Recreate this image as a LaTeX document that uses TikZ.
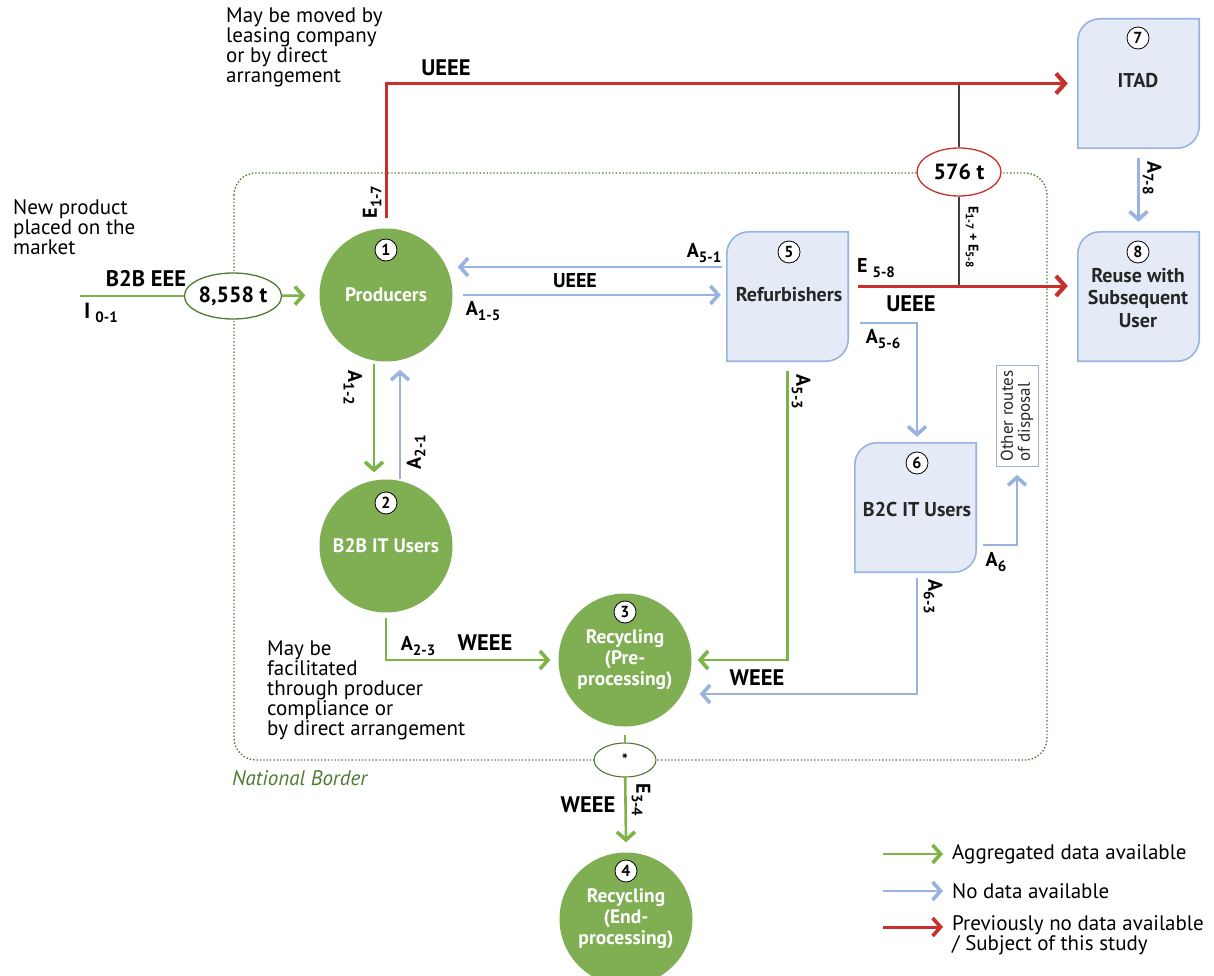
\documentclass[tikz,border=0pt]{standalone}
\usepackage{fontspec}
\setmainfont{PT Sans}
\usetikzlibrary{arrows.meta,shapes.geometric,calc}
\definecolor{cg}{HTML}{80AE53}
\definecolor{cgl}{HTML}{7DB446}
\definecolor{cb}{HTML}{98B3DE}
\definecolor{cbf}{HTML}{E4EAF6}
\definecolor{cr}{HTML}{C9302C}
\definecolor{cdg}{HTML}{4F7B31}
\newcommand\lab[2]{#1\raisebox{-0.45ex}{\fontsize{15}{15}\selectfont #2}}
\newcommand\drawbx[1]{\draw[draw=cb,fill=cbf,line width=1.6pt] (#1.north east) -- ([yshift=22pt]#1.south east) arc[start angle=0,end angle=-90,radius=22pt] -- (#1.south west) -- ([yshift=-22pt]#1.north west) arc[start angle=180,end angle=90,radius=22pt] -- cycle;}
\tikzset{
 tipg/.style={-{Straight Barb[length=8pt,width=18pt,line width=3.6pt]}},
 gline/.style={draw=cgl,line width=2.6pt},
 bline/.style={draw=cb,line width=2.2pt},
 rline/.style={draw=cr,line width=3pt},
 gflow/.style={gline,tipg},
 bflow/.style={bline,tipg},
 rflow/.style={rline,-{Straight Barb[length=9pt,width=20pt,line width=4.2pt]}},
 circ/.style={circle,fill=cg,minimum size=133pt,inner sep=0pt,text=white,align=center,font=\bfseries\fontsize{19.5}{21}\selectfont},
 num/.style={circle,draw=black,line width=0.8pt,fill=white,minimum size=22pt,inner sep=0pt,font=\bfseries\fontsize{16}{16}\selectfont},
 boxn/.style={rectangle,minimum width=121pt,minimum height=129pt,inner sep=0pt},
 boxtxt/.style={align=center,text=black!85,inner sep=0pt,font=\bfseries\fontsize{20}{22.5}\selectfont},
 ell/.style={ellipse,fill=white,inner sep=0pt,line width=1.3pt,font=\bfseries\fontsize{22}{22}\selectfont},
 lbl/.style={font=\bfseries\fontsize{20}{20}\selectfont,inner sep=0pt},
 big/.style={font=\bfseries\fontsize{22.5}{22}\selectfont,inner sep=0pt},
 note/.style={font=\fontsize{21}{20}\selectfont,align=left,inner sep=0pt},
 thinl/.style={draw=black!75,line width=1.2pt},
}
\begin{document}
\begin{tikzpicture}[x=1pt,y=-1pt]
\useasboundingbox (0,0) rectangle (1214,976);
% national border
\draw[cdg,dotted,line width=1.4pt,rounded corners=22pt] (234,173) rectangle (1047,760);
\node[font=\itshape\fontsize{21}{21}\selectfont,text=cdg,anchor=west,inner sep=0pt] (nb) at (232,778) {National Border};

% circles
\node[circ] (p1) at (386,295) {Producers};
\node[num] (n1) at (386,250) {1};
\node[circ] (p2) at (386,546) {B2B IT Users};
\node[num] (n2) at (386,503) {2};
\node[circ] (p3) at (625,660) {Recycling\\(Pre-\\processing)};
\node[num] (n3) at (625,612) {3};
\node[circ] (p4) at (626,919) {Recycling\\(End-\\processing)};
\node[num] (n4) at (626,871) {4};

% boxes
\node[boxn] (b5) at (787.5,296.5) {};
\drawbx{b5}
\node[boxtxt] (t5) at (789,295) {Refurbishers};
\node[num] (n5) at (789,252) {5};
\node[boxn] (b7) at (1138.5,83.5) {};
\drawbx{b7}
\node[boxtxt] (t7) at (1138,81) {ITAD};
\node[num] (n7) at (1138,38) {7};
\node[boxn] (b8) at (1138.5,296.5) {};
\drawbx{b8}
\node[boxtxt] (t8) at (1138,298) {Reuse with\\Subsequent\\User};
\node[num] (n8) at (1138,252) {8};
\node[boxn] (b6) at (915.5,507.5) {};
\drawbx{b6}
\node[boxtxt] (t6) at (917,509) {B2C IT Users};
\node[num] (n6) at (917,463) {6};

\node[draw=cb,line width=0.8pt,fill=white,rotate=90,minimum width=101pt,minimum height=42pt,inner sep=2pt,align=left,font=\fontsize{17}{17}\selectfont,text=black!85] (oth) at (1017,416) {Other routes\\of disposal};

% ellipses
\coordinate (i0) at (80,296);
\coordinate (j1) at (959,83.5);
\coordinate (j2) at (959,286);
\node[ell,draw=cdg,minimum width=86pt,minimum height=46pt] (e1) at (233,296) {8,558 t};
\node[ell,draw=cr,minimum width=84pt,minimum height=48pt] (e2) at (959,172) {576 t};
\node[ell,draw=cdg,line width=1.1pt,minimum width=62pt,minimum height=34pt,font=\bfseries\fontsize{16}{16}\selectfont] (e3) at (625,760) {*};

% connectors
\draw[gline] (i0) -- (e1);
\draw[gflow,shorten >=14pt] (e1) -- (p1);
\draw[thinl] (j1) -- (e2);
\draw[thinl] (e2) -- (j2);
\draw[rflow,shorten <=10pt,shorten >=10pt] (p1.north) |- (b7.west);
\draw[rflow,shorten <=10pt,shorten >=10pt] (b5.east |- j2) -- (b8.west |- j2);
\draw[bflow,shorten <=5pt] (b5.west |- 0,267) -- ([xshift=5pt]p1.east |- 0,267);
\draw[bflow] ([xshift=10pt]p1.east) -- ([xshift=-6pt]b5.west |- p1.east);
\draw[gflow] ([xshift=-12pt,yshift=-2pt]p1.south) -- ([xshift=-12pt,yshift=7pt]p2.north);
\draw[bflow] ([xshift=14pt]p2.north) -- ([xshift=14pt,yshift=-8pt]p1.south);
\draw[gflow] ([yshift=-5pt]p2.south) |- ([xshift=-8pt]p3.west);
\draw[gflow] ([yshift=-10pt]b5.south) |- ([xshift=6pt]p3.east);
\draw[bflow] ([xshift=1.5pt,yshift=-6pt]b6.south) |- ([xshift=8pt]p3.east |- 0,694);
\draw[bflow] ([xshift=12pt]b5.east |- 0,323) -| ([xshift=1.5pt,yshift=6pt]b6.north);
\draw[bflow] ([xshift=7pt]b6.east |- 0,545) -| ([yshift=-8pt]oth.west);
\draw[bflow] ([yshift=-10pt]b7.south) -- ([yshift=10pt]b8.north);
\draw[gline] ([yshift=-8pt]p3.south) -- (e3);
\draw[gflow] (e3) -- ([yshift=10pt]p4.north);

% notes
\node[note,anchor=north west] (tx1) at (226,8) {May be moved by\\leasing company\\or by direct\\arrangement};
\node[note,anchor=north west] (tx2) at (13,199) {New product\\placed on the\\market};
\node[note,anchor=north west] (tx3) at (267,641) {May be\\facilitated\\through producer\\compliance or\\by direct arrangement};

% labels
\node[big] (lu1) at (446,68) {UEEE};
\node[lbl,rotate=90] (le17) at (372,202) {\lab{E}{1-7}};
\node[big] (lb2b) at (146,279) {B2B EEE};
\node[lbl] (li01) at (101,313) {{\fontsize{22}{22}\selectfont I} \lab{}{0-1}};
\node[lbl] (l51) at (704,253) {\lab{A}{5-1}};
\node[lbl] (lu2) at (575,281) {UEEE};
\node[lbl] (l15) at (483,311) {\lab{A}{1-5}};
\node[lbl] (le58) at (876,268) {E \lab{}{5-8}};
\node[big] (lu3) at (911,304) {UEEE};
\node[lbl] (l56) at (883,339) {\lab{A}{5-6}};
\node[lbl,rotate=-90] (l12) at (353,388) {\lab{A}{1-2}};
\node[lbl,rotate=90] (l21) at (416,452) {\lab{A}{2-1}};
\node[lbl,rotate=-90] (l53) at (801,392) {\lab{A}{5-3}};
\node[lbl] (l23) at (418,646) {\lab{A}{2-3}};
\node[big] (lw1) at (485,643) {WEEE};
\node[big] (lw2) at (757,678) {WEEE};
\node[lbl,rotate=-90] (l63) at (933,597) {\lab{A}{6-3}};
\node[lbl] (l6) at (996,562) {\lab{A}{6}};
\node[lbl,rotate=-90] (l78) at (1152,178) {\lab{A}{7-8}};
\node[big] (lw3) at (588,805) {WEEE};
\node[lbl,rotate=-90] (l34) at (641,800) {\lab{E}{3-4}};
\node[font=\bfseries\fontsize{14}{14}\selectfont,rotate=-90,inner sep=0pt] (lsum) at (972,237) {E\raisebox{-.4ex}{\fontsize{11}{11}\selectfont 1-7} + E\raisebox{-.4ex}{\fontsize{11}{11}\selectfont 5-8}};

% legend
\coordinate (lg1) at (883,854); \coordinate (lg1e) at (943,854);
\coordinate (lg2) at (883,891); \coordinate (lg2e) at (943,891);
\coordinate (lg3) at (883,927); \coordinate (lg3e) at (943,927);
\draw[gflow] (lg1) -- (lg1e);
\draw[bflow] (lg2) -- (lg2e);
\draw[rline,tipg] (lg3) -- (lg3e);
\node[note,anchor=west] (lt1) at (952,854) {Aggregated data available};
\node[note,anchor=west] (lt2) at (952,891) {No data available};
\node[note,anchor=north west] (lt3) at (952,915) {Previously no data available\\/ Subject of this study};
\end{tikzpicture}
\end{document}
